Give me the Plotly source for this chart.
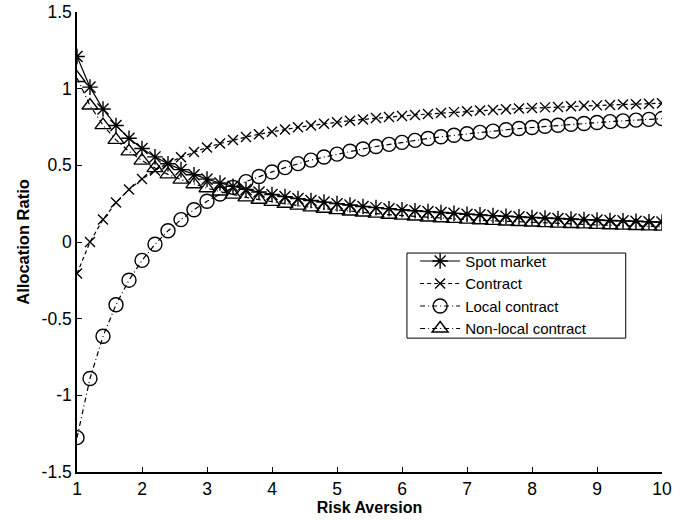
import plotly.graph_objects as go

risk_aversion = [1.0, 1.2, 1.4, 1.6, 1.8, 2.0, 2.2, 2.4, 2.6, 2.8,
                 3.0, 3.2, 3.4, 3.6, 3.8, 4.0, 4.2, 4.4, 4.6, 4.8,
                 5.0, 5.2, 5.4, 5.6, 5.8, 6.0, 6.2, 6.4, 6.6, 6.8,
                 7.0, 7.2, 7.4, 7.6, 7.8, 8.0, 8.2, 8.4, 8.6, 8.8,
                 9.0, 9.2, 9.4, 9.6, 9.8, 10.0]

spot_market = [1.210, 1.010, 0.867, 0.760, 0.677, 0.610, 0.555, 0.510, 0.472, 0.439,
               0.410, 0.385, 0.363, 0.343, 0.326, 0.310, 0.296, 0.283, 0.271, 0.260,
               0.250, 0.241, 0.232, 0.224, 0.217, 0.210, 0.204, 0.198, 0.192, 0.187,
               0.181, 0.177, 0.172, 0.168, 0.164, 0.160, 0.156, 0.153, 0.150, 0.146,
               0.143, 0.140, 0.138, 0.135, 0.132, 0.130]

contract = [-0.206, 0.000, 0.147, 0.257, 0.342, 0.411, 0.467, 0.514, 0.553, 0.587,
            0.617, 0.642, 0.665, 0.685, 0.703, 0.719, 0.734, 0.748, 0.760, 0.771,
            0.781, 0.791, 0.799, 0.808, 0.815, 0.822, 0.829, 0.835, 0.841, 0.847,
            0.852, 0.857, 0.861, 0.866, 0.870, 0.874, 0.878, 0.881, 0.885, 0.888,
            0.891, 0.894, 0.897, 0.899, 0.902, 0.905]

local_contract = [-1.276, -0.890, -0.615, -0.409, -0.249, -0.120, -0.015, 0.073, 0.146, 0.210,
                  0.266, 0.313, 0.356, 0.394, 0.427, 0.457, 0.485, 0.511, 0.534, 0.554,
                  0.573, 0.592, 0.607, 0.623, 0.637, 0.650, 0.663, 0.675, 0.686, 0.696,
                  0.706, 0.715, 0.723, 0.732, 0.740, 0.747, 0.755, 0.761, 0.768, 0.773,
                  0.779, 0.785, 0.790, 0.795, 0.800, 0.805]

non_local_contract = [1.070, 0.890, 0.762, 0.666, 0.591, 0.531, 0.482, 0.441, 0.407, 0.377,
                      0.351, 0.329, 0.309, 0.291, 0.276, 0.262, 0.249, 0.237, 0.226, 0.217,
                      0.208, 0.199, 0.192, 0.185, 0.178, 0.172, 0.166, 0.160, 0.155, 0.151,
                      0.146, 0.142, 0.138, 0.134, 0.130, 0.127, 0.123, 0.120, 0.117, 0.115,
                      0.112, 0.109, 0.107, 0.104, 0.102, 0.100]

x_tick_vals = [1, 2, 3, 4, 5, 6, 7, 8, 9, 10]
x_tick_text = ["1", "2", "3", "4", "5", "6", "7", "8", "9", "10"]
y_tick_vals = [-1.5, -1, -0.5, 0, 0.5, 1, 1.5]
y_tick_text = ["-1.5", "-1", "-0.5", "0", "0.5", "1", "1.5"]

FONT = "Liberation Sans, Arial, sans-serif"

fig = go.Figure()

fig.add_trace(go.Scatter(
    x=risk_aversion, y=spot_market, name="Spot market", mode="lines+markers",
    line=dict(color="black", width=1.2, dash="solid"),
    marker=dict(symbol="asterisk-open", size=13, color="black",
                line=dict(color="black", width=1.4)),
))
fig.add_trace(go.Scatter(
    x=risk_aversion, y=contract, name="Contract", mode="lines+markers",
    line=dict(color="black", width=1.2, dash="4px,3px"),
    marker=dict(symbol="x-thin-open", size=10, color="black",
                line=dict(color="black", width=1.4)),
))
fig.add_trace(go.Scatter(
    x=risk_aversion, y=local_contract, name="Local contract", mode="lines+markers",
    line=dict(color="black", width=1.2, dash="5px,3px,1px,3px"),
    marker=dict(symbol="circle-open", size=14, color="black",
                line=dict(color="black", width=1.4)),
))
fig.add_trace(go.Scatter(
    x=risk_aversion, y=non_local_contract, name="Non-local contract", mode="lines+markers",
    line=dict(color="black", width=1.2, dash="5px,3px,1px,3px"),
    marker=dict(symbol="triangle-up-open", size=14, color="black",
                line=dict(color="black", width=1.4)),
))

axis_common = dict(
    showline=True, linecolor="black", linewidth=1.5, mirror=False,
    ticks="inside", ticklen=5, tickwidth=1, tickcolor="black",
    showgrid=False, zeroline=False, automargin=False,
    ticklabeloverflow="allow",
    tickfont=dict(family=FONT, size=17.5, color="black"),
)

fig.update_xaxes(
    range=[1, 10], tickvals=x_tick_vals, ticktext=x_tick_text,
    title=dict(text="<b>Risk Aversion</b>", font=dict(family=FONT, size=16, color="black"), standoff=0),
    **axis_common,
)
fig.update_yaxes(
    range=[-1.5, 1.5], tickvals=y_tick_vals, ticktext=y_tick_text,
    title=dict(text="<b>Allocation Ratio</b>", font=dict(family=FONT, size=16.5, color="black"), standoff=8),
    **axis_common,
)

fig.update_layout(
    width=694, height=520,
    margin=dict(l=77, r=32, t=12, b=48),
    paper_bgcolor="white", plot_bgcolor="white",
    font=dict(family=FONT, color="black"),
    showlegend=True,
    legend=dict(
        x=0.578, y=0.494, xanchor="left", yanchor="top",
        bgcolor="rgba(0,0,0,0)", borderwidth=0,
        font=dict(family=FONT, size=15, color="black"),
        tracegroupgap=0, itemwidth=40,
    ),
    shapes=[dict(
        type="rect", xref="paper", yref="paper",
        x0=0.564, x1=0.938, y0=0.291, y1=0.476,
        line=dict(color="black", width=1), fillcolor="white", layer="below",
    )],
)

fig.write_html("out.html", config={"displayModeBar": False},
               post_script="document.body.style.margin='0';")
